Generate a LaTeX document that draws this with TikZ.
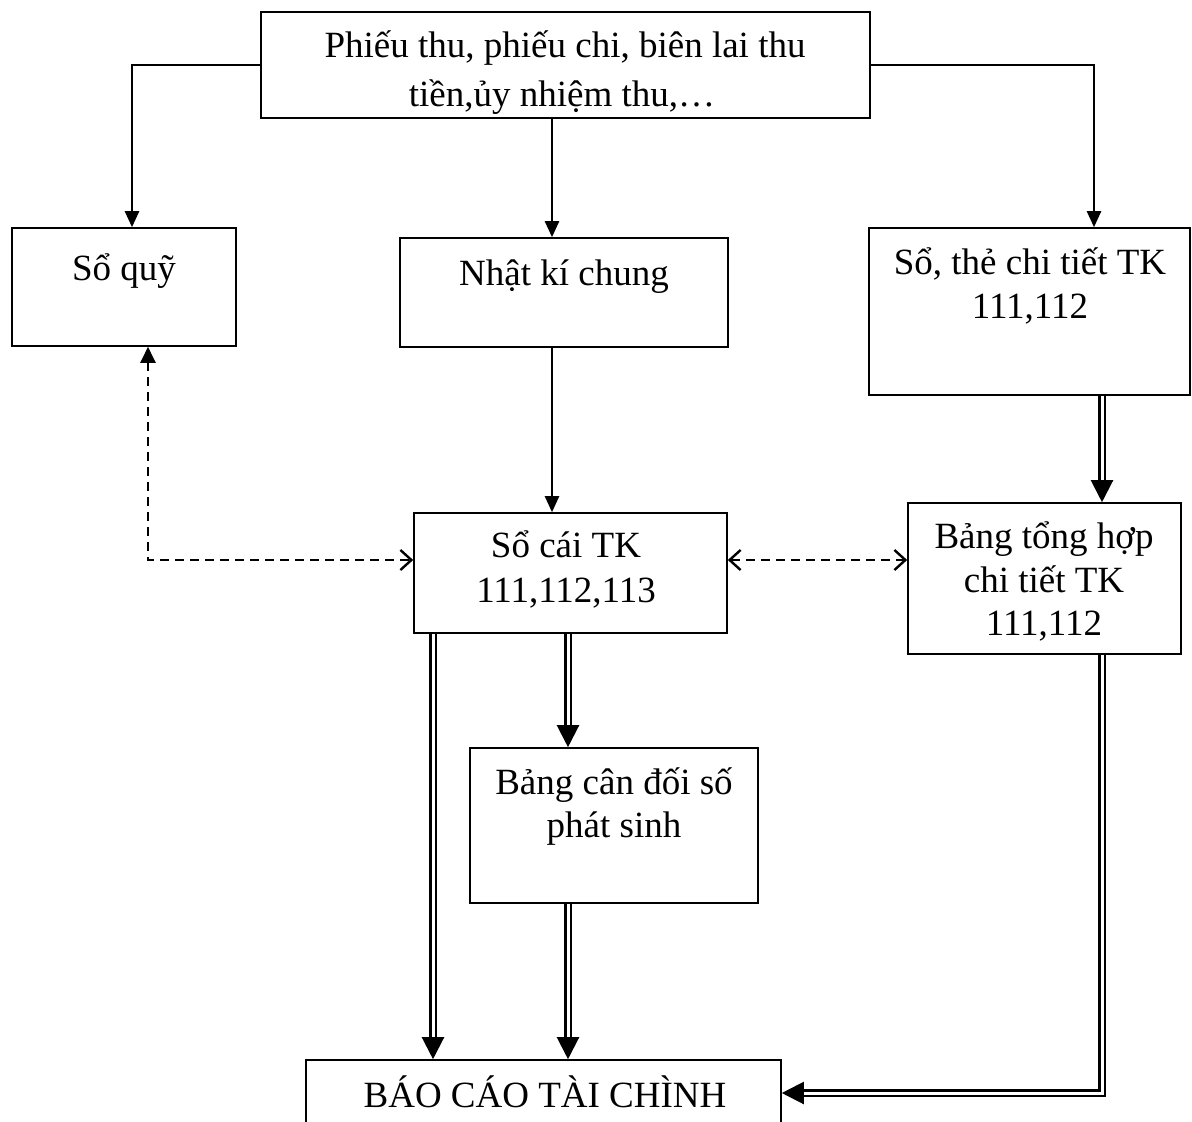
\documentclass[tikz,border=0pt]{standalone}
\usepackage{fontspec}
\setmainfont{Liberation Serif}
\usetikzlibrary{arrows.meta}
\tikzset{
  box/.style={draw, line width=1.6pt, rectangle, inner sep=0pt},
  txt/.style={inner sep=0pt, font=\fontsize{37}{44}\selectfont},
  arr/.style={line width=2.4pt, -{Triangle[length=16pt,width=14pt]}},
  dbl/.style={line width=2.2pt, double, double distance=3pt, -{Triangle[length=22pt,width=22pt]}},
  dsh/.style={line width=2.4pt, dash pattern=on 9pt off 6pt},
  barb/.tip={Straight Barb[length=11pt,width=20pt,line width=2.4pt]},
  ftri/.tip={Triangle[length=16pt,width=15pt]}
}
\begin{document}
\begin{tikzpicture}[x=1pt,y=-1pt]
\useasboundingbox (0,0) rectangle (1192,1122);
\clip (0,0) rectangle (1192,1122);
\fill[white] (0,0) rectangle (1192,1122);

% boxes
\node[box, minimum width=609pt, minimum height=106pt] (top) at (565.5,65) {};
\node[box, minimum width=224pt, minimum height=118pt] (soquy) at (124,287) {};
\node[box, minimum width=328pt, minimum height=109pt] (nkc) at (564,292.5) {};
\node[box, minimum width=321pt, minimum height=167pt] (sothe) at (1029.5,311.5) {};
\node[box, minimum width=313pt, minimum height=120pt] (socai) at (570.5,573) {};
\node[box, minimum width=273pt, minimum height=151pt] (bth) at (1044.5,578.5) {};
\node[box, minimum width=288pt, minimum height=155pt] (bcd) at (614,825.5) {};
\node[box, minimum width=475pt, minimum height=120pt] (bctc) at (543.5,1120) {};

% texts
\node[txt, anchor=base] (t1a) at (565,57) {Phiếu thu, phiếu chi, biên lai thu};
\node[txt, anchor=base] (t1b) at (562,106) {tiền,ủy nhiệm thu,…};
\node[txt, anchor=base] (t2) at (124,280) {Sổ quỹ};
\node[txt, anchor=base] (t3) at (564,285) {Nhật kí chung};
\node[txt, anchor=base] (t4a) at (1030,274) {Sổ, thẻ chi tiết TK};
\node[txt, anchor=base] (t4b) at (1030,318) {111,112};
\node[txt, anchor=base] (t5a) at (566,557) {Sổ cái TK};
\node[txt, anchor=base] (t5b) at (566,602) {111,112,113};
\node[txt, anchor=base] (t6a) at (1044,548) {Bảng tổng hợp};
\node[txt, anchor=base] (t6b) at (1044,592) {chi tiết TK};
\node[txt, anchor=base] (t6c) at (1044,635) {111,112};
\node[txt, anchor=base] (t7a) at (614,794) {Bảng cân đối số};
\node[txt, anchor=base] (t7b) at (614,837) {phát sinh};
\node[txt, anchor=base] (t8) at (545,1107) {BÁO CÁO TÀI CHÌNH};

% guide coordinates
\coordinate (colA) at (132,0);
\coordinate (colB) at (1094,0);
\coordinate (colM) at (552,0);
\coordinate (colQ) at (148,0);
\coordinate (colL2) at (433,0);
\coordinate (colM2) at (568,0);
\coordinate (colR) at (1102,0);
\coordinate (rowD) at (0,560);
\coordinate (rowE) at (0,1093);

% connectors
\draw[arr] (top.west) -| (soquy.north -| colA);
\draw[arr] (top.south -| colM) -- (nkc.north -| colM);
\draw[arr] (top.east) -| (sothe.north -| colB);
\draw[arr] (nkc.south -| colM) -- (socai.north -| colM);
\draw[dbl] (sothe.south -| colR) -- (bth.north -| colR);
\draw[dsh, ftri-barb] (soquy.south -| colQ) |- (socai.west |- rowD);
\draw[dsh, barb-barb] (socai.east |- rowD) -- (bth.west |- rowD);
\draw[dbl] (socai.south -| colL2) -- (bctc.north -| colL2);
\draw[dbl] (socai.south -| colM2) -- (bcd.north -| colM2);
\draw[dbl] (bcd.south -| colM2) -- (bctc.north -| colM2);
\draw[dbl] (bth.south -| colR) |- (bctc.east |- rowE);
\end{tikzpicture}
\end{document}
